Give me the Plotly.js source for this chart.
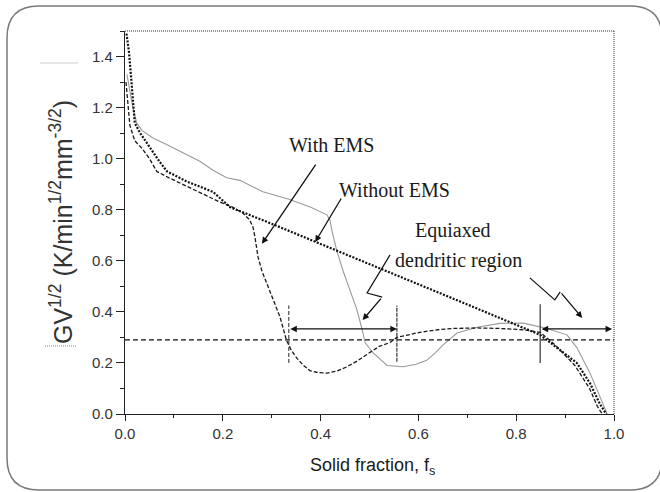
<!DOCTYPE html>
<html>
<head>
<meta charset="utf-8">
<script src="https://cdn.plot.ly/plotly-3.0.1.min.js"></script>
<style>
html,body{margin:0;padding:0;background:#fff;}
#chart{width:660px;height:492px;}
</style>
</head>
<body>
<div id="chart"></div>
<script>
// ---- data ----
const fsWithout = [0.003,0.008,0.012,0.016,0.02,0.031,0.045,0.057,0.07,0.086,0.127,0.18,0.215,0.3,0.4,0.5,0.6,0.7,0.8,0.849,0.883,0.924,0.951,0.971,0.984];
const gvWithout = [1.49,1.42,1.33,1.24,1.14,1.10,1.06,1.03,0.99,0.95,0.91,0.87,0.81,0.745,0.665,0.587,0.508,0.429,0.35,0.31,0.26,0.20,0.12,0.04,0.0];

const fsWith = [0.002,0.006,0.01,0.02,0.035,0.05,0.057,0.065,0.09,0.112,0.133,0.16,0.194,0.22,0.241,0.255,0.262,0.266,0.272,0.28,0.29,0.303,0.317,0.33,0.34,0.351,0.365,0.378,0.395,0.413,0.433,0.454,0.477,0.50,0.52,0.542,0.556,0.58,0.603,0.64,0.671,0.72,0.767,0.814,0.849,0.88,0.92,0.95,0.966,0.976];
const gvWith = [1.30,1.20,1.13,1.07,1.04,1.00,0.975,0.95,0.925,0.905,0.885,0.86,0.83,0.81,0.787,0.76,0.73,0.69,0.615,0.56,0.51,0.445,0.38,0.29,0.25,0.22,0.19,0.17,0.162,0.16,0.168,0.185,0.21,0.24,0.265,0.28,0.30,0.31,0.32,0.33,0.335,0.337,0.335,0.33,0.32,0.27,0.19,0.10,0.03,0.0];

const fsGray = [0.004,0.01,0.015,0.02,0.024,0.035,0.058,0.085,0.112,0.153,0.18,0.208,0.235,0.282,0.337,0.38,0.413,0.419,0.423,0.433,0.446,0.46,0.474,0.485,0.491,0.507,0.536,0.569,0.595,0.617,0.635,0.65,0.679,0.72,0.767,0.814,0.859,0.904,0.924,0.951,0.971,0.986];
const gvGray = [1.33,1.26,1.21,1.17,1.14,1.11,1.08,1.055,1.03,0.99,0.955,0.925,0.915,0.87,0.84,0.81,0.78,0.76,0.72,0.64,0.56,0.486,0.41,0.33,0.28,0.24,0.19,0.185,0.195,0.21,0.24,0.27,0.317,0.34,0.355,0.356,0.337,0.31,0.26,0.16,0.067,0.0];

const xTicks = [0.0,0.2,0.4,0.6,0.8,1.0];
const xTickText = ['0.0','0.2','0.4','0.6','0.8','1.0'];
const yTicks = [0.0,0.2,0.4,0.6,0.8,1.0,1.2,1.4];
const yTickText = ['0.0','0.2','0.4','0.6','0.8','1.0','1.2','1.4'];

const criticalGV = 0.29;           // horizontal reference line
const region1 = [0.335, 0.556];    // band with EMS
const region2 = [0.849, 0.996];    // band without EMS
const arrowLevel = 0.333;

// ---- geometry helpers (plot area: l=125, t=31, w=489, h=383) ----
const L = 125, T = 31, W = 489, H = 383;
function px(xp){ return (xp - L) / W; }
function py(yp){ return (T + H - yp) / H; }

function roundRectPath(l, t, r, b, rad){
  const p = (x, y) => px(x) + ',' + py(y);
  return 'M' + p(l+rad,t) + ' L' + p(r-rad,t) + ' Q' + p(r,t) + ' ' + p(r,t+rad) +
         ' L' + p(r,b-rad) + ' Q' + p(r,b) + ' ' + p(r-rad,b) +
         ' L' + p(l+rad,b) + ' Q' + p(l,b) + ' ' + p(l,b-rad) +
         ' L' + p(l,t+rad) + ' Q' + p(l,t) + ' ' + p(l+rad,t) + ' Z';
}

const traces = [
  {x: fsGray, y: gvGray, type:'scatter', mode:'lines', line:{color:'#9a9a9a', width:1.1}, name:'gray'},
  {x: fsWith, y: gvWith, type:'scatter', mode:'lines', line:{color:'#1a1a1a', width:1.3, dash:'4px,2px'}, name:'With EMS'},
  {x: fsWithout, y: gvWithout, type:'scatter', mode:'lines', line:{color:'#111', width:2.2, dash:'2px,1.5px'}, name:'Without EMS'}
];

const serif = {family:'"Liberation Serif", "Times New Roman", serif', size:20, color:'#1a1a1a'};

const shapes = [
  {type:'path', xref:'paper', yref:'paper', path: roundRectPath(7, 6, 662, 490, 32), line:{color:'#7a7a7a', width:1.5}, layer:'below'},
  {type:'line', xref:'paper', yref:'paper', x0:0, x1:1, y0:1, y1:1, line:{color:'#333', width:1, dash:'1px,1px'}},
  {type:'line', xref:'paper', yref:'paper', x0:1, x1:1, y0:0, y1:1, line:{color:'#333', width:1, dash:'1px,1px'}},
  {type:'line', xref:'x', yref:'y', x0:0, x1:1, y0:criticalGV, y1:criticalGV, line:{color:'#111', width:1.2, dash:'5px,3px'}},
  {type:'line', xref:'x', yref:'y', x0:region1[0], x1:region1[0], y0:0.20, y1:0.425, line:{color:'#222', width:1, dash:'4px,2px'}},
  {type:'line', xref:'x', yref:'y', x0:region1[1], x1:region1[1], y0:0.205, y1:0.425, line:{color:'#222', width:1.1, dash:'4px,1px'}},
  {type:'line', xref:'x', yref:'y', x0:region2[0], x1:region2[0], y0:0.20, y1:0.43, line:{color:'#222', width:1.1}},
  {type:'path', xref:'x', yref:'y', path:'M0.542,0.623 L0.495,0.474 L0.526,0.458', line:{color:'#111', width:1.2}},
  {type:'path', xref:'x', yref:'y', path:'M0.828,0.533 L0.879,0.447 L0.890,0.478', line:{color:'#111', width:1.2}},
  {type:'line', xref:'paper', yref:'paper', x0:px(40), x1:px(78), y0:py(63), y1:py(63), line:{color:'#d0d0d0', width:1.2}},
  {type:'line', xref:'paper', yref:'paper', x0:px(45), x1:px(77), y0:py(346), y1:py(346), line:{color:'#888', width:1, dash:'1px,1px'}}
];

function arrow(x, y, ax, ay, side){
  return {x:x, y:y, ax:ax, ay:ay, xref:'x', yref:'y', axref:'x', ayref:'y', text:'', showarrow:true,
          arrowhead:2, arrowsize:1, arrowwidth:1.3, arrowcolor:'#111', standoff:0, startstandoff:0,
          arrowside: side || 'end'};
}

const annotations = [
  {x:0.423, y:1.053, xref:'x', yref:'y', text:'With EMS', showarrow:false, font:serif},
  {x:0.552, y:0.877, xref:'x', yref:'y', text:'Without EMS', showarrow:false, font:serif},
  {x:0.671, y:0.72, xref:'x', yref:'y', text:'Equiaxed', showarrow:false, font:serif},
  {x:0.681, y:0.603, xref:'x', yref:'y', text:'dendritic region', showarrow:false, font:serif},
  arrow(0.280, 0.667, 0.392, 0.983),
  arrow(0.389, 0.674, 0.444, 0.85),
  arrow(0.486, 0.368, 0.526, 0.458),
  arrow(0.935, 0.376, 0.890, 0.478),
  arrow(region1[1], arrowLevel, region1[0], arrowLevel, 'end+start'),
  arrow(region2[1], arrowLevel, region2[0], arrowLevel, 'end+start'),
  {xref:'paper', yref:'paper', x:px(61), y:py(222), xanchor:'center', yanchor:'middle', textangle:-90, showarrow:false,
   text:'GV<sup>1/2</sup> (K/min<sup>1/2</sup>mm<sup>-3/2</sup>)',
   font:{family:'"Liberation Sans", Arial, sans-serif', size:25, color:'#333'}},
  {xref:'paper', yref:'paper', x:px(372), y:py(467), xanchor:'center', yanchor:'middle', showarrow:false,
   text:'Solid fraction, f<sub>s</sub>',
   font:{family:'"Liberation Sans", Arial, sans-serif', size:18, color:'#1a1a1a'}}
];

const axisFont = {family:'"Liberation Sans", Arial, sans-serif', size:15, color:'#333'};

const layout = {
  width:660, height:492,
  margin:{l:L, r:660-L-W, t:T, b:492-T-H, pad:0},
  paper_bgcolor:'#fff', plot_bgcolor:'rgba(0,0,0,0)',
  showlegend:false,
  xaxis:{range:[0,1], tickvals:xTicks, ticktext:xTickText, ticks:'outside', ticklen:6, tickwidth:1, tickcolor:'#222',
         showline:true, linecolor:'#222', linewidth:1.2, showgrid:false, zeroline:false, tickfont:axisFont,
         minor:{dtick:0.1, tick0:0, ticks:'outside', ticklen:3, tickcolor:'#222', showgrid:false}},
  yaxis:{range:[0,1.5], tickvals:yTicks, ticktext:yTickText, ticks:'outside', ticklen:8, tickwidth:1, tickcolor:'#222',
         showline:true, linecolor:'#222', linewidth:1.2, showgrid:false, zeroline:false, tickfont:axisFont,
         minor:{dtick:0.1, tick0:0, ticks:'outside', ticklen:4, tickcolor:'#222', showgrid:false}},
  shapes:shapes,
  annotations:annotations
};

Plotly.newPlot('chart', traces, layout, {displayModeBar:false, staticPlot:true});
</script>
</body>
</html>
